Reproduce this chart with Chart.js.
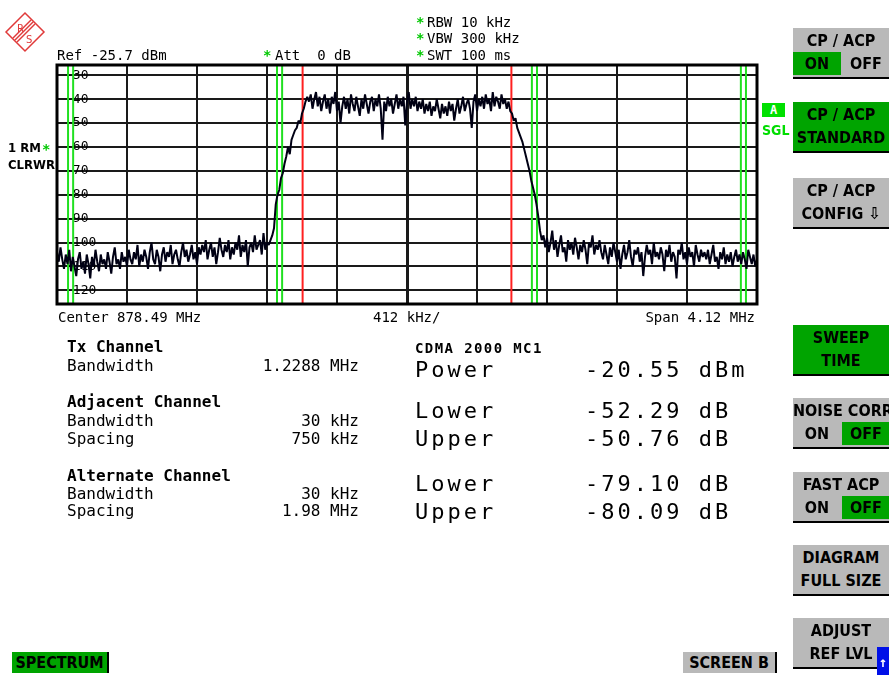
<!DOCTYPE html>
<html>
<head>
<meta charset="utf-8">
<script src="https://cdn.jsdelivr.net/npm/chart.js@4.4.0/dist/chart.umd.min.js"></script>
<style>
  html, body { margin: 0; padding: 0; background: #fff; }
  #screen { position: relative; width: 889px; height: 675px; overflow: hidden;
            font-family: "DejaVu Sans Mono", monospace; color: #000; }
  #plot { position: absolute; left: 0; top: 0; }
  .t { position: absolute; white-space: pre; font-size: 14px; line-height: 16px; }
  .m { font-size: 16px; line-height: 18px; }
  .big { font-size: 22px; line-height: 26px; letter-spacing: 3px; }
  .b { font-weight: bold; }
  .g { color: #00c800; font-weight: bold; }
  .nar { font-family: "Liberation Sans Narrow", "DejaVu Sans Condensed", sans-serif; font-weight: bold; }
  .key { position: absolute; left: 793px; width: 100px; height: 49px; background: #b9b9b9;
         border-bottom: 2px solid #000;
         font-family: "Liberation Sans Narrow", "DejaVu Sans Condensed", sans-serif;
         font-weight: bold; font-size: 16px; line-height: 18px; }
  .key.on { background: #00a400; }
  .key .r1, .key .r2 { position: absolute; left: 0; width: 96px; text-align: center; white-space: pre; }
  .key .r1 { top: 4px; }
  .key .r2 { top: 27px; }
  .key .half { position: absolute; top: 24px; height: 23px; width: 48px; text-align: center; line-height: 18px; }
  .key .half span { position: relative; top: 3px; }
  .key .left { left: 0; }
  .key .right { left: 49px; }
  .key .gr { background: #00a400; }
  .tab { position: absolute; height: 21px; font-family: "Liberation Sans Narrow", "DejaVu Sans Condensed", sans-serif;
         font-weight: bold; font-size: 16px; line-height: 22px; text-align: center; border-right: 2px solid #000; }
</style>
</head>
<body>
<div id="screen">
  <canvas id="plot" width="889" height="675"></canvas>

  <!-- R&S logo -->
  <svg style="position:absolute;left:4px;top:11px" width="42" height="42" viewBox="0 0 42 42">
    <g fill="none" stroke="#e03a3a" stroke-width="1.5">
      <polygon points="21,2 40,21 21,40 2,21"/>
      <line x1="29" y1="11" x2="11" y2="29"/><line x1="31" y1="13" x2="13" y2="31"/>
      <line x1="27" y1="9" x2="9" y2="27"/>
    </g>
    <text x="13" y="21" font-family="DejaVu Sans" font-size="10" fill="#e03a3a">R</text>
    <text x="22" y="32" font-family="DejaVu Sans" font-size="10" fill="#e03a3a">S</text>
  </svg>

  <!-- header -->
  <div class="t" style="left:57px;top:47px">Ref -25.7 dBm</div>
  <div class="t g" style="left:263px;top:47px">*</div>
  <div class="t" style="left:275px;top:47px">Att  0 dB</div>
  <div class="t g" style="left:416px;top:14px">*</div>
  <div class="t" style="left:427px;top:14px">RBW 10 kHz</div>
  <div class="t g" style="left:416px;top:30px">*</div>
  <div class="t" style="left:427px;top:30px">VBW 300 kHz</div>
  <div class="t g" style="left:416px;top:47px">*</div>
  <div class="t" style="left:427px;top:47px">SWT 100 ms</div>

  <div class="t nar" style="left:8px;top:140px;font-size:13px">1 RM</div>
  <div class="t g" style="left:42px;top:141px">*</div>
  <div class="t nar" style="left:8px;top:157px;font-size:13px">CLRWR</div>

  <div class="t b" style="left:762px;top:103px;width:23px;height:14px;line-height:14px;font-size:12px;background:#00e000;color:#fff;text-align:center">A</div>
  <div class="t nar" style="left:762px;top:122px;color:#00dd00">SGL</div>

  <!-- frequency axis texts -->
  <div class="t" style="left:58px;top:309px">Center 878.49 MHz</div>
  <div class="t" style="left:373px;top:309px">412 kHz/</div>
  <div class="t" style="right:134px;top:309px">Span 4.12 MHz</div>

  <!-- channel settings -->
  <div class="t m b" style="left:67px;top:338px">Tx Channel</div>
  <div class="t m" style="left:67px;top:357px">Bandwidth</div>
  <div class="t m" style="right:530px;top:357px">1.2288 MHz</div>
  <div class="t m b" style="left:67px;top:393px">Adjacent Channel</div>
  <div class="t m" style="left:67px;top:412px">Bandwidth</div>
  <div class="t m" style="right:530px;top:412px">30 kHz</div>
  <div class="t m" style="left:67px;top:430px">Spacing</div>
  <div class="t m" style="right:530px;top:430px">750 kHz</div>
  <div class="t m b" style="left:67px;top:467px">Alternate Channel</div>
  <div class="t m" style="left:67px;top:485px">Bandwidth</div>
  <div class="t m" style="right:530px;top:485px">30 kHz</div>
  <div class="t m" style="left:67px;top:502px">Spacing</div>
  <div class="t m" style="right:530px;top:502px">1.98 MHz</div>

  <!-- results -->
  <div class="t b" style="left:415px;top:340px;letter-spacing:1.4px">CDMA 2000 MC1</div>
  <div class="t big" style="left:415px;top:357px">Power</div>
  <div class="t big" style="left:585px;top:357px">-20.55 dBm</div>
  <div class="t big" style="left:415px;top:398px">Lower</div>
  <div class="t big" style="left:585px;top:398px">-52.29 dB</div>
  <div class="t big" style="left:415px;top:426px">Upper</div>
  <div class="t big" style="left:585px;top:426px">-50.76 dB</div>
  <div class="t big" style="left:415px;top:471px">Lower</div>
  <div class="t big" style="left:585px;top:471px">-79.10 dB</div>
  <div class="t big" style="left:415px;top:499px">Upper</div>
  <div class="t big" style="left:585px;top:499px">-80.09 dB</div>

  <!-- softkeys -->
  <div class="key" style="top:28px">
    <div class="r1">CP / ACP</div>
    <div class="half left gr"><span>ON</span></div>
    <div class="half right"><span>OFF</span></div>
  </div>
  <div class="key on" style="top:102px"><div class="r1">CP / ACP</div><div class="r2">STANDARD</div></div>
  <div class="key" style="top:178px"><div class="r1">CP / ACP</div><div class="r2">CONFIG &#8681;</div></div>
  <div class="key on" style="top:325px"><div class="r1">SWEEP</div><div class="r2">TIME</div></div>
  <div class="key" style="top:398px">
    <div class="r1">NOISE CORR</div>
    <div class="half left"><span>ON</span></div>
    <div class="half right gr"><span>OFF</span></div>
  </div>
  <div class="key" style="top:472px">
    <div class="r1">FAST ACP</div>
    <div class="half left"><span>ON</span></div>
    <div class="half right gr"><span>OFF</span></div>
  </div>
  <div class="key" style="top:545px"><div class="r1">DIAGRAM</div><div class="r2">FULL SIZE</div></div>
  <div class="key" style="top:618px"><div class="r1">ADJUST</div><div class="r2">REF LVL</div></div>
  <div class="t b" style="left:877px;top:647px;width:12px;height:28px;background:#0010e8;color:#fff;text-align:center;line-height:30px">&#8593;</div>

  <div class="tab" style="left:12px;top:652px;width:95px;background:#00a400">SPECTRUM</div>
  <div class="tab" style="left:683px;top:652px;width:92px;background:#b9b9b9">SCREEN B</div>
</div>

<script>
// ---------- Instrument settings ----------
const centerMHz = 878.49;
const spanKHz = 4120;
const refLevelDbm = -25.7;
const rangeDb = 100;
const divKHz = 412;

const xGridKHz = [-2060, -1648, -1236, -824, -412, 0, 412, 824, 1236, 1648, 2060];
const yTickValues = [-30, -40, -50, -60, -70, -80, -90, -100, -110, -120];

// Channel settings (CDMA 2000 MC1)
const txBandwidthKHz = 1228.8;
const adjSpacingKHz = 750;
const adjBandwidthKHz = 30;
const altSpacingKHz = 1980;
const altBandwidthKHz = 30;

// Trace 1 (dBm), 401 sweep points evenly across the span
const traceDbm = [
  // noise floor, lower side
  -104, -108, -102, -107, -111, -105, -109, -103, -112, -106,
  -110, -114, -107, -104, -111, -108, -113, -105, -109, -115,
  -106, -110, -103, -108, -112, -105, -109, -107, -111, -104,
  -108, -113, -106, -102, -109, -107, -111, -104, -108, -106,
  -110, -103, -107,
  -109, -104, -107, -101, -110, -105, -108, -103, -106, -111,
  -104, -100, -107, -109, -103, -106, -112, -105, -102, -108,
  -104, -106, -101, -109, -105, -103, -107, -110, -104, -100,
  -106, -103, -108, -105, -101, -107, -104, -109, -102,
  -105, -101, -104, -99, -107, -103, -100, -106, -102, -109,
  -104, -98, -103, -106, -101, -104, -99, -107, -102, -105,
  -100, -103, -97, -106, -101, -104, -99, -110, -102, -100,
  -104, -97, -103, -101, -99, -105, -96, -103, -100,
  // rising edge
  -101, -99, -97, -94, -84, -80, -78, -73, -71, -67, -64, -60,
  -63, -57, -55, -53, -52, -49, -50, -46, -44, -41, -39,
  // channel
  -41, -38, -44, -40, -37, -43, -39, -45, -41, -38,
  -44, -40, -46, -39, -42, -37, -45, -41, -50, -43,
  -39, -44, -40, -46, -38, -42, -45, -39, -43, -47,
  -40, -44, -38, -42, -46, -41, -39, -45, -40, -43,
  -38, -44, -57, -41, -45, -39, -43, -40, -46, -42,
  -38, -44, -40, -43, -39, -51, -41, -37, -44, -40,
  -43, -39, -45, -41, -44, -40, -46, -42, -45, -41,
  -47, -43, -45, -40, -44, -48, -42, -46, -43, -47,
  -41, -45, -42, -49, -44, -40, -46, -43, -39, -45,
  -42, -40, -44, -52, -41, -38, -45, -40, -43, -39,
  -44, -38, -42, -40, -45, -37, -43, -39, -41, -44,
  -38, -42, -40, -44, -41, -45,
  // falling edge
  -46, -49, -48, -52, -54, -56, -58, -61, -64, -67,
  -70, -74, -77, -80, -84, -89, -95, -99, -97, -102,
  // noise floor, upper side
  -98, -104, -100, -95, -103, -99, -106, -101, -97, -104,
  -102, -108, -99, -103, -100, -105, -98, -102, -107, -101,
  -104, -99, -103, -109, -100, -102, -97, -105, -101, -103,
  -99,
  -104, -107, -101, -105, -109, -102, -106, -100, -104, -108,
  -103, -111, -105, -101, -107, -104, -99, -106, -110, -103,
  -105, -102, -108, -104, -114, -106, -101, -105, -103, -109,
  -100, -106, -104, -107, -102, -105, -112, -103, -106, -101,
  -108, -104, -106, -115, -103, -105, -100, -107, -104, -109,
  -102, -106, -104, -110, -101, -105, -108, -103, -106, -104,
  -107, -103, -109, -105, -101, -108, -106, -111, -104, -107,
  -102, -109, -105, -108, -104, -110, -106, -103, -108, -105,
  -109, -104, -107, -111, -103, -106, -109, -105, -110, -107
];

// ---------- Helpers ----------

const yMin = refLevelDbm - rangeDb;
const yMax = refLevelDbm;

function vline(fKHz) {
  return [{ x: fKHz, y: yMin }, { x: fKHz, y: yMax }];
}

function lineDataset(fKHz, color) {
  return {
    data: vline(fKHz),
    borderColor: color,
    borderWidth: 2,
    pointRadius: 0,
    order: 2,
  };
}

const step = spanKHz / (traceDbm.length - 1);
const tracePoints = traceDbm.map((v, i) => ({ x: -spanKHz / 2 + i * step, y: v }));

const redLines = [-txBandwidthKHz / 2, txBandwidthKHz / 2];
const greenLines = [];
[[adjSpacingKHz, adjBandwidthKHz], [altSpacingKHz, altBandwidthKHz]].forEach(([sp, bw]) => {
  greenLines.push(-sp - bw / 2, -sp + bw / 2, sp - bw / 2, sp + bw / 2);
});

// plot frame around the diagram
const framePlugin = {
  id: "frame",
  afterDraw(chart) {
    const { ctx, chartArea: a } = chart;
    ctx.save();
    ctx.strokeStyle = "#000";
    ctx.lineWidth = 3;
    ctx.strokeRect(a.left, a.top, a.right - a.left, a.bottom - a.top);
    ctx.restore();
  },
};

new Chart(document.getElementById("plot"), {
  type: "line",
  data: {
    datasets: [
      {
        data: tracePoints,
        borderColor: "#000014",
        borderWidth: 2,
        borderJoinStyle: "bevel",
        pointRadius: 0,
        tension: 0,
        order: 0,
      },
      ...redLines.map((f) => lineDataset(f, "#ff2020")),
      ...greenLines.map((f) => lineDataset(f, "#20e020")),
    ],
  },
  options: {
    responsive: false,
    animation: false,
    events: [],
    layout: { padding: { left: 57, right: 132, top: 65, bottom: 371 } },
    plugins: { legend: { display: false }, tooltip: { enabled: false } },
    scales: {
      x: {
        type: "linear",
        min: -spanKHz / 2,
        max: spanKHz / 2,
        afterBuildTicks: (s) => { s.ticks = xGridKHz.map((v) => ({ value: v })); },
        afterFit: (s) => { s.height = 0; },
        ticks: { display: false },
        border: { display: false },
        grid: {
          drawTicks: false,
          color: "#1a1a1a",
          lineWidth: (c) => (c.tick && c.tick.value === 0 ? 3 : 2),
        },
      },
      y: {
        type: "linear",
        min: yMin,
        max: yMax,
        afterBuildTicks: (s) => { s.ticks = yTickValues.map((v) => ({ value: v })); },
        afterFit: (s) => { s.width = 0; },
        border: { display: false },
        ticks: {
          mirror: true,
          padding: 8,
          color: "#000",
          font: { family: "DejaVu Sans Mono", size: 13 },
          callback: (v) => String(v),
        },
        grid: { drawTicks: false, color: "#1a1a1a", lineWidth: 2 },
      },
    },
  },
  plugins: [framePlugin],
});
</script>
</body>
</html>
